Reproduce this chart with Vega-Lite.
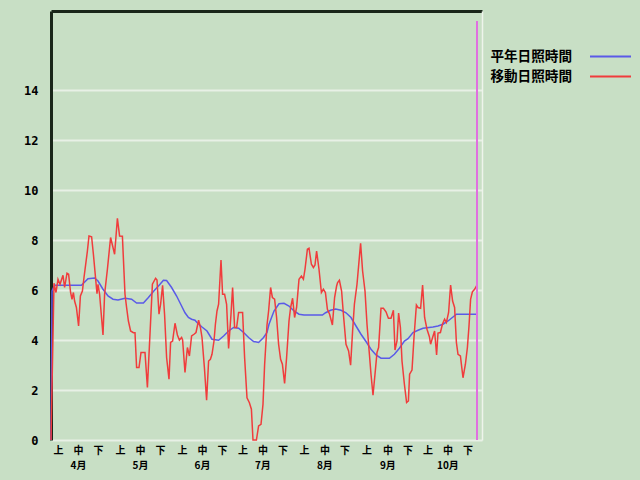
{
  "$schema": "https://vega.github.io/schema/vega-lite/v6.json",
  "autosize": {"type": "none"},
  "width": 431,
  "height": 429,
  "padding": {"left": 51, "top": 11, "right": 158, "bottom": 40},
  "background": "#c8dfc5",
  "config": {
    "view": {"stroke": null, "fill": "#c8dfc5"},
    "axis": {"title": null},
    "legend": {
      "title": null, "orient": "none",
      "symbolType": "stroke", "symbolSize": 1681, "symbolStrokeWidth": 2,
      "labelAlign": "right", "labelOffset": -60,
      "labelFont": "Noto Sans CJK JP", "labelFontSize": 13.6, "labelFontWeight": "bold",
      "labelColor": "#000000", "padding": 0
    }
  },
  "datasets": {
    "normal": [
      {"d":0,"v":0},{"d":0.5,"v":5.96},{"d":1.8,"v":6.19},{"d":15.2,"v":6.19},{"d":18.5,"v":6.45},{"d":21.8,"v":6.48},{"d":23.5,"v":6.36},{"d":26,"v":6.03},{"d":28.5,"v":5.76},{"d":31,"v":5.63},{"d":33.5,"v":5.6},{"d":37,"v":5.67},{"d":40.3,"v":5.63},{"d":42.8,"v":5.48},{"d":46.2,"v":5.48},{"d":48.7,"v":5.7},{"d":51.2,"v":5.94},{"d":54.5,"v":6.23},{"d":56.2,"v":6.39},{"d":57.8,"v":6.38},{"d":60.3,"v":6.1},{"d":62.8,"v":5.76},{"d":65.3,"v":5.36},{"d":67,"v":5.09},{"d":68.7,"v":4.9},{"d":70.3,"v":4.83},{"d":72,"v":4.79},{"d":73,"v":4.7},{"d":75.5,"v":4.52},{"d":78,"v":4.36},{"d":80.5,"v":4.03},{"d":83.8,"v":3.99},{"d":86.3,"v":4.16},{"d":88.8,"v":4.36},{"d":91.3,"v":4.5},{"d":93.8,"v":4.47},{"d":96.3,"v":4.3},{"d":98.8,"v":4.1},{"d":101.3,"v":3.94},{"d":103.8,"v":3.9},{"d":106.3,"v":4.1},{"d":108,"v":4.3},{"d":109,"v":4.63},{"d":111.5,"v":5.16},{"d":114,"v":5.45},{"d":116.5,"v":5.47},{"d":119,"v":5.36},{"d":121.5,"v":5.16},{"d":124,"v":5.03},{"d":126.5,"v":5.0},{"d":135.7,"v":5.0},{"d":137.3,"v":5.09},{"d":139.8,"v":5.19},{"d":142.3,"v":5.24},{"d":145,"v":5.19},{"d":147.5,"v":5.09},{"d":150,"v":4.9},{"d":152.5,"v":4.56},{"d":155,"v":4.23},{"d":157.5,"v":3.94},{"d":160,"v":3.63},{"d":162.5,"v":3.4},{"d":165,"v":3.27},{"d":169.2,"v":3.27},{"d":171.7,"v":3.43},{"d":174.2,"v":3.67},{"d":176.7,"v":3.96},{"d":178.5,"v":4.05},{"d":181,"v":4.3},{"d":183.5,"v":4.39},{"d":186,"v":4.47},{"d":191,"v":4.52},{"d":193.5,"v":4.56},{"d":196,"v":4.63},{"d":198.5,"v":4.76},{"d":201,"v":4.92},{"d":202.7,"v":5.03},{"d":213,"v":5.03}
    ],
    "moving": [
      {"d":0,"v":0},{"d":1.5,"v":6.27},{"d":2.5,"v":5.9},{"d":3.5,"v":6.43},{"d":4.5,"v":6.23},{"d":6,"v":6.59},{"d":6.8,"v":6.1},{"d":8,"v":6.67},{"d":8.8,"v":6.63},{"d":9.8,"v":5.9},{"d":10.5,"v":5.63},{"d":11.2,"v":5.9},{"d":11.8,"v":5.56},{"d":12.7,"v":5.3},{"d":13.8,"v":4.56},{"d":14.7,"v":5.76},{"d":15.7,"v":5.96},{"d":16.5,"v":6.5},{"d":18.2,"v":7.56},{"d":19,"v":8.16},{"d":20.3,"v":8.13},{"d":21.2,"v":7.43},{"d":23,"v":5.85},{"d":23.5,"v":6.23},{"d":24.3,"v":5.83},{"d":26,"v":4.2},{"d":26.8,"v":5.83},{"d":28.2,"v":6.83},{"d":29.8,"v":8.1},{"d":31.8,"v":7.43},{"d":33.2,"v":8.87},{"d":34.3,"v":8.16},{"d":35.7,"v":8.15},{"d":37,"v":5.83},{"d":37.8,"v":5.3},{"d":38.7,"v":4.76},{"d":39.8,"v":4.36},{"d":41.2,"v":4.29},{"d":42,"v":4.29},{"d":42.8,"v":2.9},{"d":44,"v":2.9},{"d":45,"v":3.5},{"d":47,"v":3.5},{"d":48.2,"v":2.1},{"d":50.7,"v":6.23},{"d":52.3,"v":6.47},{"d":53,"v":6.4},{"d":54,"v":5.03},{"d":54.8,"v":5.43},{"d":55.8,"v":6.19},{"d":56.8,"v":5.0},{"d":57.8,"v":3.3},{"d":59,"v":2.43},{"d":59.8,"v":3.9},{"d":60.8,"v":3.96},{"d":62,"v":4.67},{"d":63.2,"v":4.2},{"d":64.2,"v":4.0},{"d":65.3,"v":4.1},{"d":65.8,"v":4.0},{"d":67,"v":2.7},{"d":68.2,"v":3.7},{"d":69.2,"v":3.36},{"d":70.3,"v":4.16},{"d":71.5,"v":4.23},{"d":72.5,"v":4.3},{"d":73.8,"v":4.79},{"d":74.7,"v":4.5},{"d":75.5,"v":4.1},{"d":76.7,"v":2.9},{"d":77.8,"v":1.59},{"d":78.8,"v":3.16},{"d":79.7,"v":3.23},{"d":80.5,"v":3.43},{"d":81.5,"v":3.96},{"d":82.2,"v":4.63},{"d":83,"v":5.16},{"d":83.8,"v":5.43},{"d":85,"v":7.2},{"d":85.8,"v":5.83},{"d":86.8,"v":5.83},{"d":87.8,"v":5.43},{"d":88.8,"v":3.66},{"d":90,"v":5.03},{"d":90.8,"v":6.1},{"d":91.8,"v":4.5},{"d":92.8,"v":4.5},{"d":93.8,"v":5.1},{"d":95.8,"v":5.1},{"d":96.8,"v":3.3},{"d":98,"v":1.69},{"d":99.2,"v":1.49},{"d":100.2,"v":1.23},{"d":101,"v":0},{"d":102.7,"v":0},{"d":103.8,"v":0.56},{"d":105,"v":0.63},{"d":106,"v":1.43},{"d":106.8,"v":3.0},{"d":108,"v":4.6},{"d":108.8,"v":5.16},{"d":109.8,"v":6.1},{"d":110.7,"v":5.7},{"d":111.8,"v":5.63},{"d":112.8,"v":4.9},{"d":113.8,"v":3.83},{"d":114.8,"v":3.23},{"d":115.7,"v":3.03},{"d":116.8,"v":2.26},{"d":117.8,"v":3.3},{"d":119,"v":4.76},{"d":119.8,"v":5.3},{"d":120.8,"v":5.67},{"d":121.8,"v":4.9},{"d":122.8,"v":5.3},{"d":124,"v":6.43},{"d":125.2,"v":6.56},{"d":126.2,"v":6.43},{"d":127,"v":6.83},{"d":128.2,"v":7.63},{"d":129,"v":7.67},{"d":130.2,"v":7.03},{"d":131.2,"v":6.9},{"d":132,"v":7.0},{"d":132.8,"v":7.56},{"d":134,"v":6.83},{"d":135.2,"v":5.9},{"d":136.2,"v":6.03},{"d":137.2,"v":5.9},{"d":138.2,"v":5.23},{"d":139.3,"v":5.03},{"d":140.7,"v":4.6},{"d":141.8,"v":5.7},{"d":142.8,"v":6.16},{"d":143.3,"v":6.3},{"d":144.2,"v":6.39},{"d":145.3,"v":5.96},{"d":146.2,"v":5.03},{"d":147.5,"v":3.83},{"d":148.8,"v":3.56},{"d":149.8,"v":2.99},{"d":150.8,"v":4.36},{"d":151.7,"v":5.43},{"d":153,"v":6.23},{"d":153.8,"v":6.96},{"d":154.8,"v":7.87},{"d":155.8,"v":6.76},{"d":157,"v":5.96},{"d":158,"v":4.63},{"d":159.2,"v":3.43},{"d":160,"v":2.63},{"d":161,"v":1.79},{"d":162,"v":2.63},{"d":163,"v":3.5},{"d":163.8,"v":3.7},{"d":165,"v":5.27},{"d":166.2,"v":5.27},{"d":167.5,"v":5.13},{"d":168.7,"v":4.87},{"d":170,"v":4.87},{"d":171.2,"v":5.19},{"d":172,"v":3.6},{"d":173,"v":3.96},{"d":173.8,"v":5.08},{"d":174.7,"v":4.5},{"d":175.5,"v":3.16},{"d":176.7,"v":2.23},{"d":177.8,"v":1.5},{"d":178.7,"v":1.56},{"d":179.3,"v":2.63},{"d":180.5,"v":2.8},{"d":181.5,"v":4.1},{"d":182.7,"v":5.4},{"d":183.5,"v":5.3},{"d":184.8,"v":5.27},{"d":185.8,"v":6.2},{"d":186.8,"v":4.9},{"d":188,"v":4.43},{"d":189.2,"v":4.13},{"d":189.8,"v":3.83},{"d":190.8,"v":4.1},{"d":191.8,"v":4.36},{"d":192.8,"v":3.4},{"d":193.5,"v":4.28},{"d":194.7,"v":4.3},{"d":195.7,"v":4.63},{"d":196.8,"v":4.83},{"d":197.7,"v":4.7},{"d":198.8,"v":5.1},{"d":199.8,"v":6.2},{"d":200.8,"v":5.56},{"d":201.8,"v":5.3},{"d":202.7,"v":3.9},{"d":203.5,"v":3.43},{"d":204.7,"v":3.36},{"d":206,"v":2.49},{"d":207.2,"v":3.03},{"d":208.2,"v":3.7},{"d":209,"v":4.56},{"d":209.8,"v":5.63},{"d":210.7,"v":5.93},{"d":211.8,"v":6.03},{"d":212.7,"v":6.16},{"d":213,"v":6.2}
    ],
    "marker": [{"d": 213}]
  },
  "layer": [
    {
      "data": {"name": "normal"},
      "mark": {"type": "line", "strokeWidth": 1.5},
      "encoding": {
        "x": {
          "field": "d", "type": "quantitative",
          "scale": {"domain": [0, 215.5], "nice": false, "zero": false},
          "axis": {
            "orient": "bottom", "domain": false, "ticks": false, "grid": false,
            "values": [3.5,13.5,23.5,34.5,44.5,54.5,65.5,75.5,85.5,95.7,105.7,115.7,126.5,136.7,146.7,157.8,168.2,178.3,188.3,198.2,208.3],
            "labelExpr": "['上','中','下'][indexof([3.5,13.5,23.5,34.5,44.5,54.5,65.5,75.5,85.5,95.7,105.7,115.7,126.5,136.7,146.7,157.8,168.2,178.3,188.3,198.2,208.3], datum.value) % 3]",
            "labelFont": "Noto Sans CJK JP", "labelFontSize": 10, "labelFontWeight": "bold",
            "labelColor": "#000000", "labelPadding": 5,
            "labelOverlap": false, "labelFlush": false, "labelBaseline": "top"
          }
        },
        "y": {
          "field": "v", "type": "quantitative",
          "scale": {"domain": [0, 17.16], "nice": false},
          "axis": {
            "orient": "left", "values": [0,2,4,6,8,10,12,14],
            "domain": true, "domainColor": "#1a261a", "domainWidth": 3,
            "ticks": false, "grid": true, "gridColor": "#e8f0e6", "gridWidth": 2,
            "labelFont": "DejaVu Sans Mono", "labelFontSize": 12, "labelFontWeight": "bold",
            "labelColor": "#000000", "labelPadding": 13
          }
        },
        "color": {
          "datum": "平年日照時間", "type": "nominal",
          "scale": {"domain": ["平年日照時間"], "range": ["#5a5ae8"]},
          "legend": {"legendX": 538, "legendY": 24}
        }
      }
    },
    {
      "data": {"name": "moving"},
      "mark": {"type": "line", "strokeWidth": 1.5},
      "encoding": {
        "x": {
          "field": "d", "type": "quantitative",
          "axis": {
            "orient": "bottom", "offset": 15, "domain": false, "ticks": false, "grid": false,
            "values": [13.5,44.5,75.5,105.7,136.7,168.2,198.2],
            "labelExpr": "['4月','5月','6月','7月','8月','9月','10月'][indexof([13.5,44.5,75.5,105.7,136.7,168.2,198.2], datum.value)]",
            "labelFont": "Noto Sans CJK JP", "labelFontSize": 10, "labelFontWeight": "bold",
            "labelColor": "#000000", "labelPadding": 5,
            "labelOverlap": false, "labelFlush": false, "labelBaseline": "top"
          }
        },
        "y": {"field": "v", "type": "quantitative", "axis": null},
        "color": {
          "datum": "移動日照時間", "type": "nominal",
          "scale": {"domain": ["移動日照時間"], "range": ["#f03c3c"]},
          "legend": {"legendX": 538, "legendY": 44}
        }
      }
    },
    {
      "data": {"name": "marker"},
      "mark": {"type": "rule", "color": "#e070e0", "strokeWidth": 2},
      "encoding": {
        "x": {
          "field": "d", "type": "quantitative",
          "axis": {"orient": "top", "labels": false, "ticks": false, "grid": false, "domain": true, "domainColor": "#1a261a", "domainWidth": 3}
        },
        "y": {
          "datum": 0, "type": "quantitative",
          "axis": {"orient": "right", "labels": false, "ticks": false, "grid": false, "domain": true, "domainColor": "#eef4ec", "domainWidth": 1.5}
        },
        "y2": {"datum": 16.76}
      }
    }
  ],
  "resolve": {
    "axis": {"x": "independent", "y": "independent"},
    "scale": {"color": "independent"},
    "legend": {"color": "independent"}
  }
}
